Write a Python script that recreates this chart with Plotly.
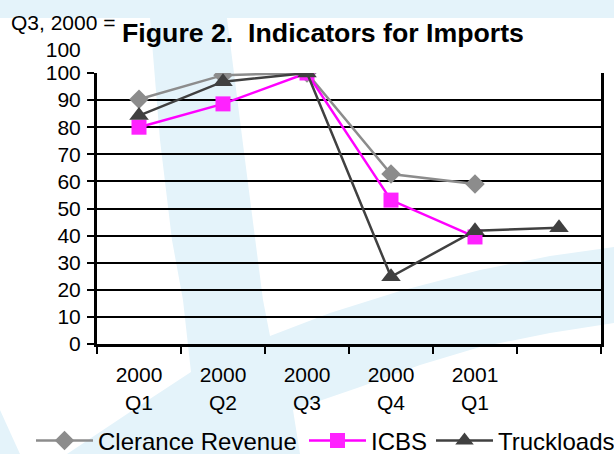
import plotly.graph_objects as go

# Quarterly import indicators, indexed so that Q3 2000 = 100
quarters = ["2000 Q1", "2000 Q2", "2000 Q3", "2000 Q4", "2001 Q1", "2001 Q2"]
tick_labels = ["2000<br>Q1", "2000<br>Q2", "2000<br>Q3", "2000<br>Q4", "2001<br>Q1", ""]
clearance_revenue = [90.3, 99.2, 100, 62.7, 59.0, None]
icbs = [80.0, 88.6, 100, 53.1, 39.5, None]
truckloads = [84.3, 96.8, 100, 24.8, 41.8, 42.9]

W, H = 614, 454
ML, MR, MT, MB = 97, 13, 73, 110
PW, PH = W - ML - MR, H - MT - MB


def to_paper(px, py):
    return (px - ML) / PW, (H - MB - py) / PH


def path_from(points):
    pts = [to_paper(x, y) for x, y in points]
    return "M " + " L ".join(f"{x:.4f},{y:.4f}" for x, y in pts) + " Z"


# light-blue watermark artwork behind the chart (canvas pixel outlines)
band_top = [(0, 0), (614, 0), (614, 18), (0, 18)]
stroke_and_swoosh = [
    (150, 18), (227, 18), (245, 160), (263, 300), (270, 336), (330, 313),
    (400, 291), (480, 270), (550, 256), (614, 247), (614, 323), (550, 333),
    (480, 347), (420, 365), (360, 387), (293, 410), (300, 454), (67, 454),
    (130, 412), (191, 372), (183, 300), (172, 240), (160, 140),
]
corner_piece = [(0, 410), (20, 454), (0, 454)]

BG = "#E4F3FA"
shapes = [
    dict(type="path", xref="paper", yref="paper", path=path_from(p),
         fillcolor=BG, line=dict(width=0), layer="below")
    for p in (band_top, stroke_and_swoosh, corner_piece)
]

FONT = "Liberation Sans, Arial, sans-serif"

fig = go.Figure()
fig.add_trace(go.Scatter(
    x=quarters, y=clearance_revenue, name="Clerance Revenue", mode="lines+markers",
    line=dict(color="#8C8C8C", width=2.5),
    marker=dict(symbol="diamond", size=15, color="#8C8C8C"),
    legend="legend",
))
fig.add_trace(go.Scatter(
    x=quarters, y=icbs, name="ICBS", mode="lines+markers",
    line=dict(color="#FF00FF", width=2.5),
    marker=dict(symbol="square", size=15, color="#FF22FF"),
    legend="legend2",
))
fig.add_trace(go.Scatter(
    x=quarters, y=truckloads, name="Truckloads", mode="lines+markers",
    line=dict(color="#404040", width=2.5),
    marker=dict(symbol="triangle-up", size=17, color="#404040"),
    legend="legend3",
))


def legend_at(left_px):
    return dict(
        orientation="h", x=left_px / W, xanchor="left", xref="container",
        y=1 - 441 / H, yanchor="middle", yref="container",
        font=dict(family=FONT, size=24, color="black"),
        bgcolor="rgba(0,0,0,0)", itemwidth=57,
    )


fig.update_layout(
    width=W, height=H,
    margin=dict(l=ML, r=MR, t=MT, b=MB, autoexpand=False),
    paper_bgcolor="white",
    plot_bgcolor="rgba(0,0,0,0)",
    font=dict(family=FONT, size=21, color="black"),
    shapes=shapes,
    title=dict(
        text="<b>Figure 2.\u00a0 Indicators for Imports</b>",
        x=323 / W, xanchor="center", xref="container",
        y=1 - 33 / H, yanchor="middle", yref="container",
        font=dict(family=FONT, size=26.7, color="black"),
    ),
    showlegend=True,
    legend=legend_at(31),
    legend2=legend_at(304),
    legend3=legend_at(431),
    annotations=[dict(
        text="Q3, 2000 =<br>100", xref="paper", yref="paper",
        x=to_paper(63, 0)[0], y=to_paper(0, 36)[1],
        xanchor="center", yanchor="middle", showarrow=False,
        font=dict(family=FONT, size=21, color="black"),
    )],
)

fig.update_xaxes(
    type="category", categoryorder="array", categoryarray=quarters,
    tickvals=quarters, ticktext=tick_labels,
    tickson="boundaries", ticks="outside", ticklen=7, tickwidth=2, tickcolor="black",
    showline=True, linewidth=3, linecolor="black",
    showgrid=False, zeroline=False, ticklabelstandoff=10,
    range=[-0.5, 5.5],
)
fig.update_yaxes(
    range=[0, 100], dtick=10, tick0=0,
    ticks="outside", ticklen=7, tickwidth=2, tickcolor="black",
    showline=True, linewidth=3, linecolor="black", mirror=True,
    showgrid=True, gridcolor="black", gridwidth=2,
    zeroline=False, ticklabelstandoff=2,
)

fig.write_html("out.html")
